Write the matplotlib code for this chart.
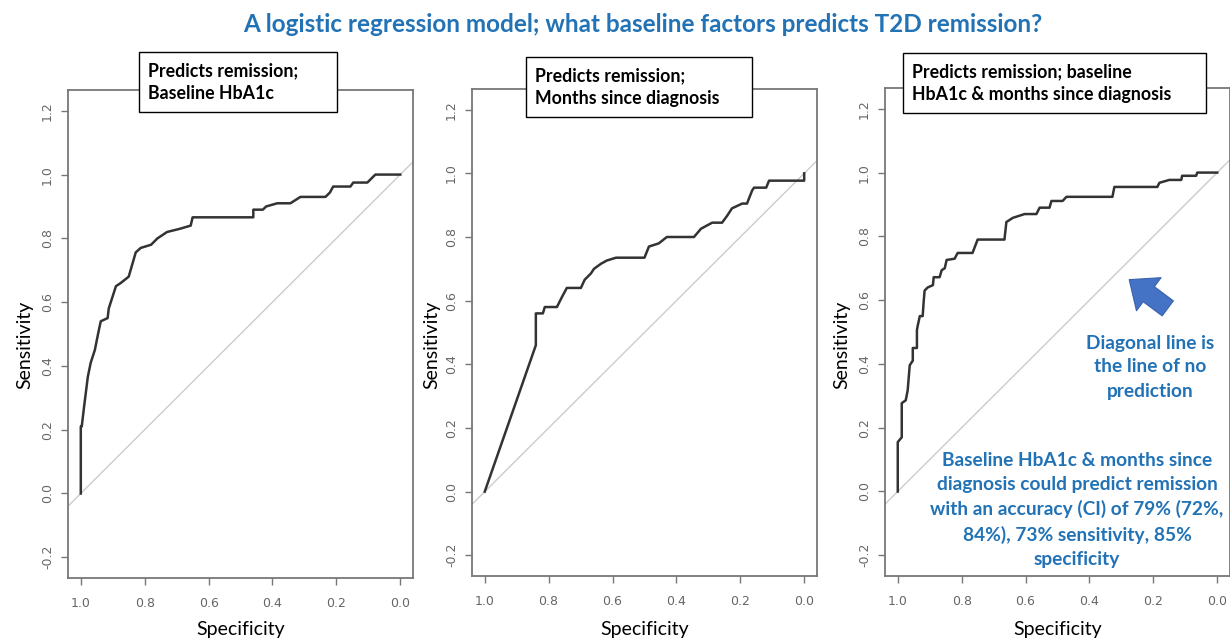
import matplotlib.pyplot as plt
from matplotlib.patches import FancyArrowPatch

# ROC curve points (specificity, sensitivity)
hba1c_spec = [1.0, 1.0, 0.997, 0.99, 0.978, 0.969, 0.956, 0.944, 0.9375, 0.916, 0.9125,
              0.89, 0.875, 0.85, 0.828, 0.8125, 0.78, 0.76, 0.73, 0.69, 0.656, 0.65,
              0.46, 0.46, 0.43, 0.42, 0.385, 0.344, 0.3125, 0.234, 0.22, 0.21, 0.156,
              0.147, 0.103, 0.078, 0.0]
hba1c_sens = [0.0, 0.21, 0.21, 0.27, 0.366, 0.41, 0.45, 0.51, 0.54, 0.55, 0.58,
              0.65, 0.66, 0.68, 0.756, 0.77, 0.78, 0.80, 0.82, 0.83, 0.84, 0.866,
              0.866, 0.89, 0.89, 0.90, 0.91, 0.91, 0.93, 0.93, 0.944, 0.9625, 0.9625,
              0.975, 0.975, 1.0, 1.0]

months_spec = [1.0, 0.84, 0.84, 0.818, 0.812, 0.774, 0.759, 0.743, 0.699, 0.687, 0.668,
               0.658, 0.636, 0.618, 0.589, 0.50, 0.486, 0.455, 0.43, 0.345, 0.323, 0.288,
               0.257, 0.241, 0.226, 0.194, 0.179, 0.163, 0.157, 0.119, 0.11, 0.0, 0.0]
months_sens = [0.0, 0.46, 0.56, 0.56, 0.58, 0.58, 0.61, 0.64, 0.64, 0.666, 0.685,
               0.70, 0.716, 0.726, 0.735, 0.735, 0.77, 0.78, 0.80, 0.80, 0.826, 0.845,
               0.845, 0.867, 0.89, 0.905, 0.905, 0.946, 0.955, 0.955, 0.977, 0.977, 1.0]

both_spec = [1.0, 1.0, 0.9875, 0.9875, 0.975, 0.969, 0.9625, 0.953, 0.953, 0.94, 0.94,
             0.9375, 0.931, 0.922, 0.919, 0.916, 0.906, 0.89, 0.8875, 0.869, 0.8625,
             0.853, 0.847, 0.822, 0.8125, 0.766, 0.75, 0.666, 0.66, 0.64, 0.603, 0.566,
             0.556, 0.525, 0.519, 0.484, 0.472, 0.328, 0.322, 0.1875, 0.181, 0.15,
             0.1125, 0.11, 0.066, 0.0625, 0.0]
both_sens = [0.0, 0.155, 0.17, 0.277, 0.286, 0.317, 0.396, 0.41, 0.45, 0.45, 0.506,
             0.52, 0.55, 0.55, 0.594, 0.63, 0.64, 0.647, 0.672, 0.672, 0.694,
             0.70, 0.726, 0.73, 0.748, 0.748, 0.79, 0.79, 0.845, 0.858, 0.87, 0.87,
             0.89, 0.89, 0.911, 0.911, 0.924, 0.924, 0.955, 0.955, 0.968, 0.977,
             0.977, 0.99, 0.99, 1.0, 1.0]

box_titles = ["Predicts remission;\nBaseline HbA1c",
              "Predicts remission;\nMonths since diagnosis",
              "Predicts remission; baseline\nHbA1c & months since diagnosis"]
xticks = [1.0, 0.8, 0.6, 0.4, 0.2, 0.0]
yticks = [-0.2, 0.0, 0.2, 0.4, 0.6, 0.8, 1.0, 1.2]

blue = '#2272B6'
font = 'Lato'

fig = plt.figure(figsize=(12.3, 6.42), dpi=100)

# axes boxes in figure fractions (from pixel positions)
positions = [[0.0553, 0.0997, 0.2805, 0.760],
             [0.3837, 0.1028, 0.2805, 0.7586],
             [0.7195, 0.1028, 0.2805, 0.760]]
curves = [(hba1c_spec, hba1c_sens), (months_spec, months_sens), (both_spec, both_sens)]
box_pos = [(139, 52, 337, 112), (526, 57, 752, 117), (903, 53, 1206, 113)]
ylabel_x = [25, 432, 842]

axes = []
for i, pos in enumerate(positions):
    ax = fig.add_axes(pos)
    spec, sens = curves[i]
    ax.axline((1, 0), (0, 1), color='#cccccc', lw=1.0, zorder=1)
    ax.plot(spec, sens, color='#333333', lw=1.8, zorder=2)
    ax.set_xlim(1.04, -0.04)
    ax.set_ylim(-0.265, 1.265)
    ax.set_xticks(xticks)
    ax.set_xticklabels([f'{t:.1f}' for t in xticks])
    ax.set_yticks(yticks)
    ax.set_yticklabels([f'{t:.1f}' for t in yticks], rotation=90, va='center')
    ax.tick_params(colors='#777777', labelcolor='#666666', labelsize=9, length=5, width=1)
    ax.tick_params(axis='x', pad=9)
    ax.tick_params(axis='y', pad=5)
    for s in ax.spines.values():
        s.set_color('#777777')
        s.set_linewidth(1.3)
    axes.append(ax)

    # axis labels placed in pixel coordinates
    cx = (pos[0] + pos[2] / 2)
    fig.text(cx, 1 - 630 / 642, 'Specificity', ha='center', va='center',
             fontsize=14, family=font)
    fig.text(ylabel_x[i] / 1230, 1 - 345 / 642, 'Sensitivity', ha='center', va='center',
             rotation=90, fontsize=14, family=font)

    # boxed panel title
    x0, y0, x1, y1 = box_pos[i]
    fig.patches.append(plt.Rectangle((x0 / 1230, 1 - y1 / 642), (x1 - x0) / 1230, (y1 - y0) / 642,
                                     transform=fig.transFigure, fc='white', ec='black',
                                     lw=1.0, zorder=5))
    fig.text((x0 + 9) / 1230, 1 - ((y0 + y1) / 2) / 642, box_titles[i], ha='left', va='center',
             fontsize=12.8, fontweight='bold', family=font, linespacing=1.4, zorder=6)

fig.text(1 - (1230 - 642.5) / 1230, 1 - 24 / 642,
         'A logistic regression model; what baseline factors predicts T2D remission?',
         ha='center', va='center', fontsize=17.5, fontweight='bold', color=blue, family=font)

arrow = FancyArrowPatch((1170 / 1230, 1 - 310 / 642), (1127 / 1230, 1 - 278 / 642),
                        transform=fig.transFigure,
                        arrowstyle='simple,head_width=2.2,head_length=1.3,tail_width=1.0',
                        mutation_scale=13.5, fc='#4472C4', ec='#3A63AE', lw=0.8, zorder=6)
fig.patches.append(arrow)

fig.text(1150 / 1230, 1 - 367 / 642, 'Diagonal line is\nthe line of no\nprediction',
         ha='center', va='center', fontsize=13.8, fontweight='bold', color=blue,
         family=font, linespacing=1.5)
fig.text(1077 / 1230, 1 - 510 / 642,
         'Baseline HbA1c & months since\ndiagnosis could predict remission\n'
         'with an accuracy (CI) of 79% (72%,\n84%), 73% sensitivity, 85%\nspecificity',
         ha='center', va='center', fontsize=13.8, fontweight='bold', color=blue,
         family=font, linespacing=1.5)

plt.savefig('out.png', dpi=100)
